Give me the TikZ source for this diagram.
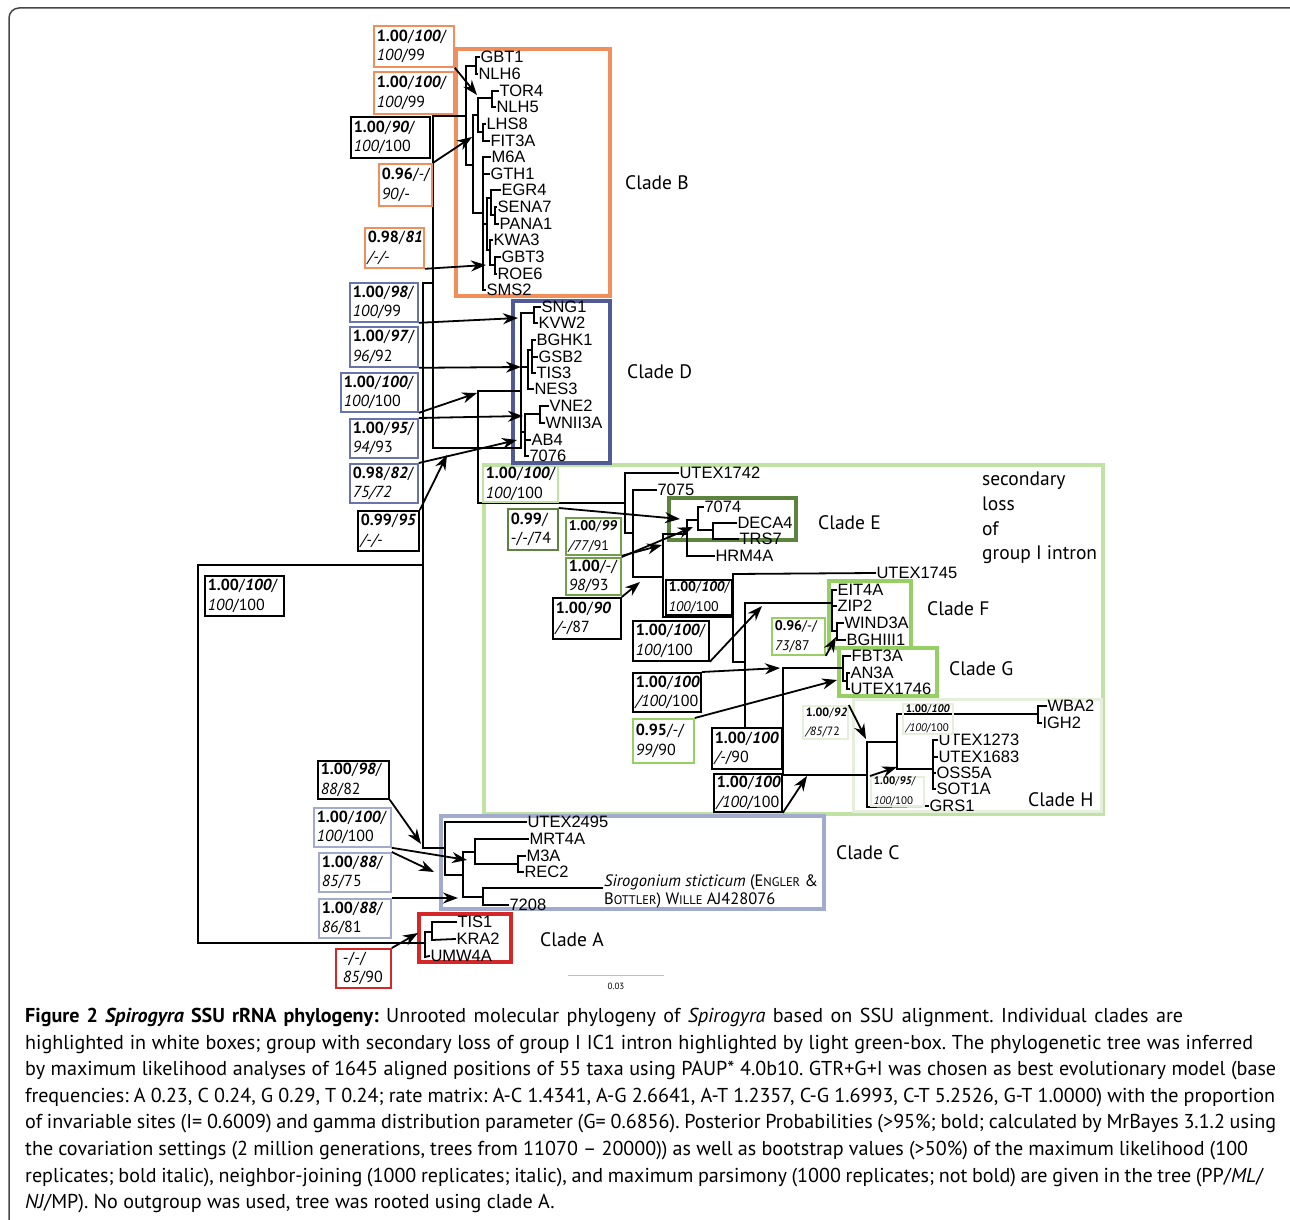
\documentclass[tikz,border=0pt]{standalone}
\usepackage{fontspec}
\setmainfont{PT Sans}
\newfontfamily\taxf{Liberation Sans}
\usetikzlibrary{arrows.meta}
\frenchspacing
\definecolor{cOr}{RGB}{240,142,92}
\definecolor{cNavy}{RGB}{82,90,150}
\definecolor{cNavyL}{RGB}{105,115,172}
\definecolor{cLGreen}{RGB}{192,226,162}
\definecolor{cDGreen}{RGB}{92,132,62}
\definecolor{cEGreen}{RGB}{112,160,72}
\definecolor{cMGreen}{RGB}{150,208,100}
\definecolor{cHGreen}{RGB}{230,238,220}
\definecolor{cLav}{RGB}{162,170,206}
\definecolor{cRed}{RGB}{212,40,40}
\definecolor{cFrame}{RGB}{70,70,70}
\newcommand\pb[1]{\textbf{#1}}
\newcommand\pbi[1]{\textbf{\textit{#1}}}
\newcommand\pit[1]{\textit{#1}}
\newcommand\smc[1]{{\fontsize{12.5}{14}\selectfont #1}}
\newcommand\lab[7]{%
 \pgfmathsetmacro\labw{#5-#3}\pgfmathsetmacro\labh{#6-#4}\pgfmathsetmacro\labt{#5-#3-6}%
 \node[lbl, draw=#2, minimum width=\labw pt, minimum height=\labh pt, text width=\labt pt] (#1) at (#3,#4) {#7};}
\newcommand\tax[3]{\node[taxon] (t#1) at (#2) {#3};}
\newcommand\capline[4]{\node[capl] (#1) at (25,#2) {\hbox to #3pt{#4}};}
\tikzset{
 tree/.style={line width=1.8pt, line cap=rect},
 taxon/.style={anchor=west, inner sep=0pt, outer xsep=1.5pt, font=\taxf\fontsize{16.5}{18}\selectfont},
 cladelbl/.style={anchor=west, inner sep=0pt, font=\fontsize{19.5}{22}\selectfont},
 lbl/.style={line width=1.8pt, fill=white, anchor=north west, align=left, inner xsep=3pt, inner ysep=0pt, font=\fontsize{16}{19.5}\selectfont},
 arr/.style={line width=1.8pt, -{Stealth[length=15pt,width=11pt]}},
 cbox/.style={line width=3.5pt},
 capl/.style={anchor=base west, inner sep=0pt, font=\fontsize{20.1}{24}\selectfont},
}
\begin{document}
\begin{tikzpicture}[x=1pt,y=-1pt]
\useasboundingbox (0,0) rectangle (1290,1220);
\draw[line width=1.5pt, cFrame, rounded corners=10pt] (9,8) rectangle (1310,1240);

% clade boxes
\draw[cbox, cLGreen] (484,465) rectangle (1103,814);
\draw[cbox, cOr] (456,49) rectangle (610,296);
\draw[cbox, cNavy] (513,301) rectangle (610,463);
\draw[cbox, cDGreen, line width=4pt] (669,498) rectangle (796,540);
\draw[cbox, cMGreen] (829,581) rectangle (911,648);
\draw[cbox, cMGreen] (839,648) rectangle (937,696);
\draw[cbox, cHGreen, line width=3pt] (853,699) rectangle (1101,811);
\draw[cbox, cLav] (441,816) rectangle (824,909);
\draw[cbox, cRed] (419,914) rectangle (511,962);

% clade labels
\node[cladelbl] (cB) at (625,183) {Clade B};
\node[cladelbl] (cD) at (627,372) {Clade D};
\node[cladelbl] (cE) at (818,523) {Clade E};
\node[cladelbl] (cF) at (927,609) {Clade F};
\node[cladelbl] (cG) at (949,669) {Clade G};
\node[cladelbl] (cH) at (1028,800) {Clade H};
\node[cladelbl] (cC) at (836,853) {Clade C};
\node[cladelbl] (cA) at (540,940) {Clade A};
\node[anchor=north west, inner sep=0pt, align=left, font=\fontsize{19.5}{24.7}\selectfont] (sec) at (982,472) {secondary\\loss\\of\\group I intron};

% taxa: clade B
\tax{GBT1}{479,57}{GBT1}
\tax{NLH6}{477,74}{NLH6}
\tax{TOR4}{498,91}{TOR4}
\tax{NLH5}{495,107}{NLH5}
\tax{LHS8}{485,124}{LHS8}
\tax{FIT3A}{489,141}{FIT3A}
\tax{M6A}{490,157}{M6A}
\tax{GTH1}{489,174}{GTH1}
\tax{EGR4}{500,190}{EGR4}
\tax{SENA7}{496,207}{SENA7}
\tax{PANA1}{498,224}{PANA1}
\tax{KWA3}{492,240}{KWA3}
\tax{GBT3}{500,257}{GBT3}
\tax{ROE6}{496,274}{ROE6}
\tax{SMS2}{485,290}{SMS2}
% clade D
\tax{SNG1}{540,307}{SNG1}
\tax{KVW2}{537,323}{KVW2}
\tax{BGHK1}{535,340}{BGHK1}
\tax{GSB2}{537,357}{GSB2}
\tax{TIS3}{535,373}{TIS3}
\tax{NES3}{533,389}{NES3}
\tax{VNE2}{548,406}{VNE2}
\tax{WNII3A}{544,423}{WNII3A}
\tax{AB4}{530,440}{AB4}
\tax{7076}{528,456}{7076}
% green clade
\tax{UTEX1742}{678,473}{UTEX1742}
\tax{7075}{656,490}{7075}
\tax{7074}{703,507}{7074}
\tax{DECA4}{736,523}{DECA4}
\tax{TRS7}{738,539}{TRS7}
\tax{HRM4A}{714,556}{HRM4A}
\tax{UTEX1745}{875,573}{UTEX1745}
\tax{EIT4A}{836,590}{EIT4A}
\tax{ZIP2}{836,606}{ZIP2}
\tax{WIND3A}{843,623}{WIND3A}
\tax{BGHIII1}{845,640}{BGHIII1}
\tax{FBT3A}{850,656}{FBT3A}
\tax{AN3A}{849,673}{AN3A}
\tax{UTEX1746}{849,689}{UTEX1746}
\tax{WBA2}{1046,706}{WBA2}
\tax{IGH2}{1041,723}{IGH2}
\tax{UTEX1273}{937,740}{UTEX1273}
\tax{UTEX1683}{937,757}{UTEX1683}
\tax{OSS5A}{935,773}{OSS5A}
\tax{SOT1A}{935,789}{SOT1A}
\tax{GRS1}{928,806}{GRS1}
% clade C
\tax{UTEX2495}{526,822}{UTEX2495}
\tax{MRT4A}{528,839}{MRT4A}
\tax{M3A}{525,856}{M3A}
\tax{REC2}{523,872}{REC2}
\tax{7208}{508,905}{7208}
\node[anchor=north west, inner sep=0pt, align=left, font=\fontsize{16.5}{18}\selectfont] (tSiro) at (604,875) {\textit{Sirogonium sticticum} (E\smc{NGLER} \&\\B\smc{OTTLER}) W\smc{ILLE} AJ428076};
% clade A
\tax{TIS1}{456,922}{TIS1}
\tax{KRA2}{455,939}{KRA2}
\tax{UMW4A}{429,956}{UMW4A}

% ---------- tree lines ----------
% backbone
\draw[tree] (433,116)--(433,448);
\draw[tree] (423,283)--(433,283);
\draw[tree] (423,283)--(423,848);
\draw[tree] (198,565)--(423,565);
\draw[tree] (198,565)--(198,943)--(425,943);
% clade B
\draw[tree] (433,116)--(466,116) (466,66)--(466,165);
\draw[tree] (466,66)--(476,66) (476,57)--(476,74) (476,57)--(tGBT1.west) (476,74)--(tNLH6.west);
\draw[tree] (466,165)--(473,165) (473,115)--(473,213);
\draw[tree] (473,115)--(478,115) (478,98)--(478,132);
\draw[tree] (478,98)--(492,98) (492,91)--(492,107) (492,91)--(tTOR4.west) (492,107)--(tNLH5.west);
\draw[tree] (478,132)--(483,132) (483,124)--(483,141) (483,124)--(tLHS8.west) (483,141)--(tFIT3A.west);
\draw[tree] (473,213)--(483,213) (483,157)--(483,290) (483,157)--(tM6A.west) (483,174)--(tGTH1.west) (483,290)--(tSMS2.west);
\draw[tree] (483,224)--(487,224) (487,198)--(487,250);
\draw[tree] (487,198)--(491,198) (491,190)--(491,215) (491,190)--(tEGR4.west) (491,215)--(495,215) (495,207)--(495,224) (495,207)--(tSENA7.west) (495,224)--(tPANA1.west);
\draw[tree] (487,250)--(490,250) (490,240)--(490,265) (490,240)--(tKWA3.west) (490,265)--(495,265) (495,257)--(495,274) (495,257)--(tGBT3.west) (495,274)--(tROE6.west);
% clade D
\draw[tree] (433,448)--(521,448) (521,313)--(521,448);
\draw[tree] (521,313)--(534,313) (534,307)--(534,323) (534,307)--(tSNG1.west) (534,323)--(tKVW2.west);
\draw[tree] (521,367)--(528,367) (528,350)--(528,389) (528,350)--(532,350) (532,340)--(532,373) (532,340)--(tBGHK1.west) (532,357)--(tGSB2.west) (532,373)--(tTIS3.west) (528,389)--(tNES3.west);
\draw[tree] (521,432)--(525,432) (525,414)--(525,456) (525,414)--(540,414) (540,406)--(540,423) (540,406)--(tVNE2.west) (540,423)--(tWNII3A.west) (525,440)--(tAB4.west) (525,456)--(t7076.west);
% link to green clade
\draw[tree] (521,391)--(478,391)--(478,503)--(625,503);
% green clade
\draw[tree] (625,473)--(625,533) (625,473)--(tUTEX1742.west);
\draw[tree] (625,533)--(633,533) (633,490)--(633,577) (633,490)--(t7075.west);
\draw[tree] (633,577)--(663,577) (663,534)--(663,617);
\draw[tree] (663,534)--(687,534) (687,520)--(687,556) (687,556)--(tHRM4A.west);
\draw[tree] (687,520)--(698,520) (698,507)--(698,530) (698,507)--(t7074.west) (698,530)--(713,530) (713,523)--(713,539) (713,523)--(tDECA4.west) (713,539)--(tTRS7.west);
\draw[tree] (663,617)--(733,617) (733,574)--(733,662) (733,574)--(tUTEX1745.west);
\draw[tree] (733,662)--(745,662) (745,603)--(745,745) (745,745)--(783,745);
\draw[tree] (745,603)--(832,603) (832,590)--(832,631) (832,590)--(tEIT4A.west) (832,606)--(tZIP2.west) (832,631)--(837,631) (837,623)--(837,640) (837,623)--(tWIND3A.west) (837,640)--(tBGHIII1.west);
\draw[tree] (783,668)--(783,775) (783,668)--(843,668) (843,656)--(843,681) (843,656)--(tFBT3A.west) (843,681)--(847,681) (847,673)--(847,689) (847,673)--(tAN3A.west) (847,689)--(tUTEX1746.west);
\draw[tree] (783,775)--(867,775) (867,742)--(867,807) (867,807)--(tGRS1.west);
\draw[tree] (867,742)--(897,742) (897,714)--(897,769) (897,714)--(1038,714) (1038,706)--(1038,723) (1038,706)--(tWBA2.west) (1038,723)--(tIGH2.west);
\draw[tree] (897,769)--(933,769) (933,740)--(933,789) (933,740)--(tUTEX1273.west) (933,757)--(tUTEX1683.west) (933,773)--(tOSS5A.west) (933,789)--(tSOT1A.west);
% clade C
\draw[tree] (423,848)--(445,848) (445,822)--(445,875) (445,822)--(tUTEX2495.west);
\draw[tree] (445,875)--(463,875) (463,852)--(463,897) (463,852)--(475,852) (475,839)--(475,864) (475,839)--(tMRT4A.west);
\draw[tree] (475,864)--(518,864) (518,856)--(518,872) (518,856)--(tM3A.west) (518,872)--(tREC2.west);
\draw[tree] (463,897)--(483,897) (483,888)--(483,905) (483,888)--(602,888) (483,905)--(t7208.west);
% clade A
\draw[tree] (425,932)--(425,957) (425,932)--(432,932) (432,922)--(432,940) (432,922)--(tTIS1.west) (432,940)--(tKRA2.west) (425,957)--(tUMW4A.west);

% scale bar
\draw[line width=0.8pt, black!25] (568,975)--(664,975);
\node[inner sep=0pt, font=\fontsize{9}{10}\selectfont] (scale) at (616,986) {0.03};

% ---------- support labels ----------
\lab{LB1}{cOr}{373}{25}{453}{66}{\pb{1.00}/\pbi{100}/\\\pit{100}/99}
\lab{LB2}{cOr}{373}{71}{453}{113}{\pb{1.00}/\pbi{100}/\\\pit{100}/99}
\lab{LB3}{black}{350}{116}{429}{157}{\pb{1.00}/\pbi{90}/\\\pit{100}/100}
\lab{LB4}{cOr}{378}{163}{431}{205}{\mbox{\pb{0.96}/\pit{-}/}\\\mbox{\pit{90}/-}}
\lab{LB5}{cOr}{364}{227}{423}{267}{\pb{0.98}/\pbi{81}\\\pit{/-/-}}
\lab{LD1}{cNavyL}{349}{282}{417}{321}{\pb{1.00}/\pbi{98}/\\\pit{100}/99}
\lab{LD2}{cNavyL}{349}{326}{417}{366}{\pb{1.00}/\pbi{97}/\\\pit{96}/92}
\lab{LD3}{cNavyL}{340}{372}{417}{411}{\pb{1.00}/\pbi{100}/\\\pit{100}/100}
\lab{LD4}{cNavyL}{349}{418}{417}{457}{\pb{1.00}/\pbi{95}/\\\pit{94}/93}
\lab{LD5}{cNavyL}{349}{463}{417}{502}{\pb{0.98}/\pbi{82}/\\\pit{75/72}}
\lab{LD6}{black}{357}{510}{418}{550}{\pb{0.99}/\pbi{95}\\\pit{/-/-}}
\lab{LG1}{cLGreen}{482}{465}{557}{501}{\pb{1.00}/\pbi{100}/\\\pit{100}/100}
\lab{LE1}{cDGreen}{507}{508}{557}{549}{\pb{0.99}/\\\mbox{-/-/74}}
\lab{LE2}{cEGreen}{565}{517}{620}{554}{\fontsize{14}{18}\selectfont\pb{1.00}/\pbi{99}\\\pit{/77}/91}
\lab{LE3}{cEGreen}{565}{557}{620}{594}{\mbox{\pb{1.00}/-/}\\\pit{98}/93}
\lab{LE4}{black}{552}{597}{620}{638}{\pb{1.00}/\pbi{90}\\\mbox{\pit{/-}/87}}
\lab{LE5}{black}{665}{579}{731}{614}{\fontsize{14}{17}\selectfont\pb{1.00}/\pbi{100}/\\\pit{100}/100}
\lab{LF1}{black}{632}{620}{708}{660}{\pb{1.00}/\pbi{100}/\\\pit{100}/100}
\lab{LF2}{cMGreen}{771}{617}{824}{654}{\fontsize{14}{18}\selectfont\mbox{\pb{0.96}/-/}\\\pit{73}/87}
\lab{LG2}{black}{632}{672}{700}{711}{\pb{1.00}/\pbi{100}\\\pit{/100}/100}
\lab{LG3}{cMGreen}{632}{718}{693}{762}{\mbox{\pb{0.95}/-/}\\\pit{99}/90}
\lab{LH1}{black}{711}{727}{781}{768}{\pb{1.00}/\pbi{100}\\\mbox{\pit{/-}/90}}
\lab{LH2}{black}{713}{773}{781}{811}{\pb{1.00}/\pbi{100}\\\pit{/100}/100}
\lab{LH3}{cHGreen}{802}{705}{847}{738}{\fontsize{12}{15}\selectfont\pb{1.00}/\pbi{92}\\\pit{/85}/72}
\node[lbl, fill=none, draw=cHGreen, minimum width=50pt, minimum height=30pt, text width=44pt] (LH4) at (902,703) {\fontsize{11}{14}\selectfont\pb{1.00}/\pbi{100}\\\pit{/100}/100};
\lab{LH5}{cHGreen}{870}{776}{923}{803}{\fontsize{11}{13}\selectfont\pb{1.00}/\pbi{95}/\\\pit{100}/100}
\lab{LR}{black}{204}{575}{283}{615}{\pb{1.00}/\pbi{100}/\\\pit{100}/100}
\lab{LC1}{black}{317}{760}{388}{798}{\pb{1.00}/\pbi{98}/\\\pit{88}/82}
\lab{LC2}{cLav}{313}{807}{390}{846}{\pb{1.00}/\pbi{100}/\\\pit{100}/100}
\lab{LC3}{cLav}{318}{852}{390}{891}{\pb{1.00}/\pbi{88}/\\\pit{85}/75}
\lab{LC4}{cLav}{318}{898}{390}{937}{\pb{1.00}/\pbi{88}/\\\pit{86}/81}
\lab{LA1}{cRed}{335}{948}{390}{987}{\hspace*{4pt}\mbox{-/-/}\\\hspace*{4pt}\pit{85}/90}

% ---------- arrows ----------
\coordinate (aB1) at (477,95);
\coordinate (aB4) at (472,137);
\coordinate (aB5) at (486,265);
\coordinate (aD1) at (518,318);
\coordinate (aD2) at (521,367);
\coordinate (aD3) at (477,393);
\coordinate (aD4) at (523,416);
\coordinate (aD5) at (517,440);
\coordinate (aD6) at (447,455);
\coordinate (aE1) at (680,519);
\coordinate (aE2) at (662,545);
\coordinate (aE3) at (693,527);
\coordinate (aE4) at (640,582);
\coordinate (aF1) at (762,606);
\coordinate (aF2) at (836,637);
\coordinate (aG2) at (780,668);
\coordinate (aG3) at (837,680);
\coordinate (aH3) at (866,739);
\coordinate (aH2) at (807,776);
\coordinate (aH5) at (897,767);
\coordinate (aC1) at (421,844);
\coordinate (aC2) at (467,860);
\coordinate (aC3) at (434,872);
\coordinate (aC4) at (458,898);
\coordinate (aA1) at (418,933);
\draw[arr] (LB1.south east) -- (aB1);
\draw[arr] (LB4.north east) -- (aB4);
\draw[arr] (LB5.south east) -- (aB5);
\draw[arr] (LD1.south east) -- (aD1);
\draw[arr] (LD2.south east) -- (aD2);
\draw[arr] (LD3.south east) -- (aD3);
\draw[arr] (LD4.north east) -- (aD4);
\draw[arr] (LD5.north east) -- (aD5);
\draw[arr] (LD6.north east) -- (aD6);
\draw[arr] (LE1.north east) -- (aE1);
\draw[arr] (LE2.south east) -- (aE2);
\draw[arr] (LE3.north east) -- (aE3);
\draw[arr] (LE4.north east) -- (aE4);
\draw[arr] (LF1.south east) -- (aF1);
\draw[arr] (LF2.south east) -- (aF2);
\draw[arr] (LG2.north east) -- (aG2);
\draw[arr] (LG3.north east) -- (aG3);
\draw[arr] (LH3.north east) -- (aH3);
\draw[arr] (LH2.south east) -- (aH2);
\draw[arr] (LH5.north west) -- (aH5);
\draw[arr] (LC1.south east) -- (aC1);
\draw[arr] (LC2.south east) -- (aC2);
\draw[arr] (LC3.north east) -- (aC3);
\draw[arr] (LC4.north east) -- (aC4);
\draw[arr] (LA1.north east) -- (aA1);

% ---------- caption ----------
\capline{cap1}{1022.5}{1158}{\textbf{Figure 2 \textit{Spirogyra} SSU rRNA phylogeny:} Unrooted molecular phylogeny of \textit{Spirogyra} based on SSU alignment. Individual clades are}
\capline{cap2}{1049.1}{1228}{highlighted in white boxes; group with secondary loss of group I IC1 intron highlighted by light green-box. The phylogenetic tree was inferred}
\capline{cap3}{1075.7}{1251}{by maximum likelihood analyses of 1645 aligned positions of 55 taxa using PAUP* 4.0b10. GTR+G+I was chosen as best evolutionary model (base}
\capline{cap4}{1102.3}{1250}{frequencies: A 0.23, C 0.24, G 0.29, T 0.24; rate matrix: A-C 1.4341, A-G 2.6641, A-T 1.2357, C-G 1.6993, C-T 5.2526, G-T 1.0000) with the proportion}
\capline{cap5}{1128.9}{1251}{of invariable sites (I= 0.6009) and gamma distribution parameter (G= 0.6856). Posterior Probabilities (>95\%; bold; calculated by MrBayes 3.1.2 using}
\capline{cap6}{1155.5}{1223}{the covariation settings (2 million generations, trees from 11070 -- 20000)) as well as bootstrap values (>50\%) of the maximum likelihood (100}
\capline{cap7}{1182.1}{1238}{replicates; bold italic), neighbor-joining (1000 replicates; italic), and maximum parsimony (1000 replicates; not bold) are given in the tree (PP/\textit{ML}/}
\node[capl] (cap8) at (25,1208.7) {\textit{NJ}/MP). No outgroup was used, tree was rooted using clade A.};
\end{tikzpicture}
\end{document}
